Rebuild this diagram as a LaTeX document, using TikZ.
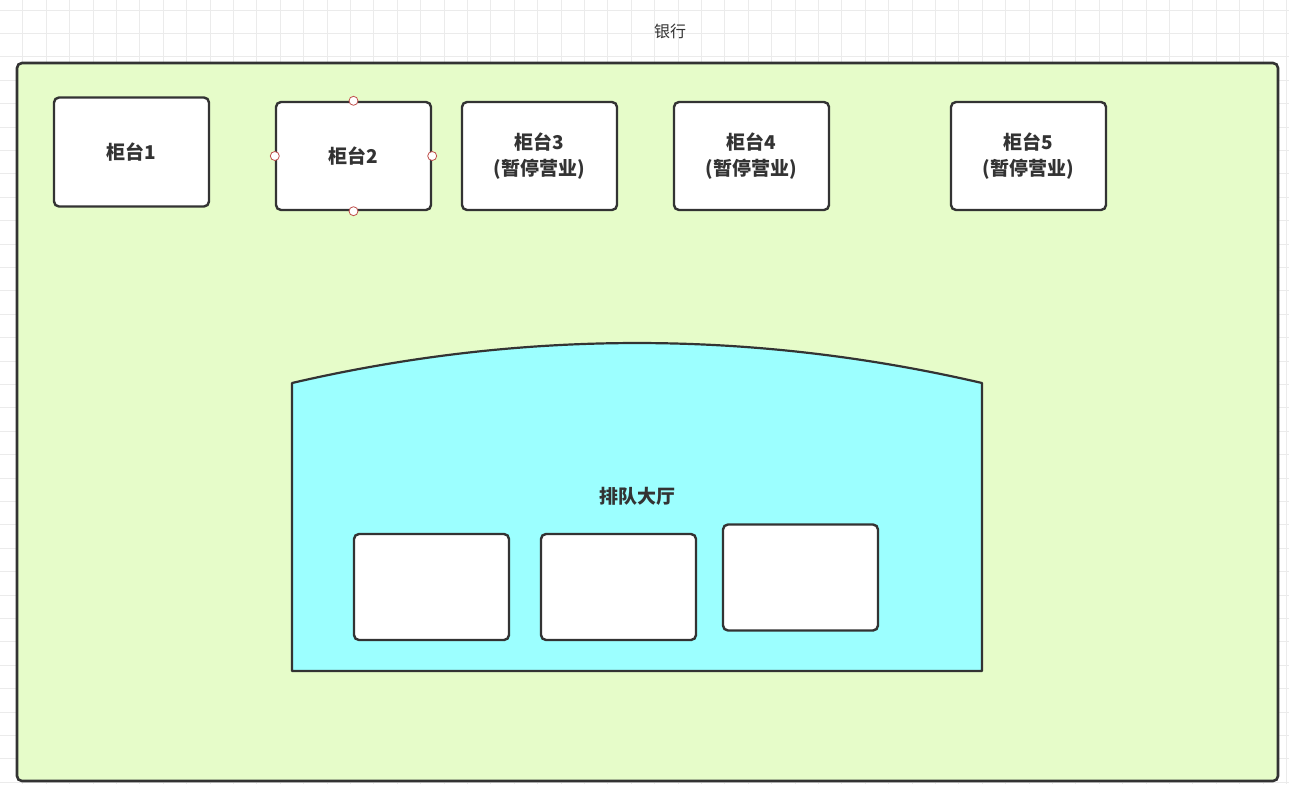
\documentclass[tikz,border=0pt]{standalone}
\usepackage{fontspec}
\setmainfont{Noto Sans CJK SC}
\definecolor{gridc}{HTML}{EBEBEB}
\definecolor{bankfill}{HTML}{E6FCC9}
\definecolor{hallfill}{HTML}{9CFFFF}
\definecolor{edgec}{HTML}{333333}
\definecolor{txtc}{HTML}{333333}
\definecolor{handlec}{HTML}{C0504D}
\tikzset{
  counterbox/.style={draw=edgec, line width=2.4pt, fill=white, rounded corners=5pt,
    minimum width=155pt, minimum height=108pt, inner sep=0pt, align=center,
    font=\fontsize{19}{26}\selectfont\bfseries, text=txtc},
  seatbox/.style={draw=edgec, line width=2.4pt, fill=white, rounded corners=5pt,
    minimum width=155pt, minimum height=106pt, inner sep=0pt},
  handle/.style={circle, draw=handlec, fill=white, line width=0.8pt, minimum size=9pt, inner sep=0pt},
  lbl/.style={text=txtc, inner sep=0pt}
}
\begin{document}
\begin{tikzpicture}[x=1pt,y=-1pt]
\useasboundingbox (0,0) rectangle (1289,784);
\fill[white] (0,0) rectangle (1289,784);
% grid
\foreach \i in {0,...,55} {
  \draw[gridc, line width=0.8pt] ({-0.7+23.4*\i},0) -- ({-0.7+23.4*\i},784);
}
\foreach \j in {0,...,33} {
  \draw[gridc, line width=0.8pt] (0,{10+23.4*\j}) -- (1289,{10+23.4*\j});
}
% title
\node[lbl, font=\fontsize{16}{18}\selectfont] (title) at (670,31) {银行};
% bank
\draw[edgec, line width=2.6pt, fill=bankfill, rounded corners=5pt] (17,63) rectangle (1278,781);
% counters
\node[counterbox, minimum height=109pt] (c1) at (131.5,152) {柜台1};
\node[counterbox] (c2) at (353.5,156) {柜台2};
\node[counterbox] (c3) at (539.5,156) {柜台3\\(暂停营业)};
\node[counterbox] (c4) at (751.5,156) {柜台4\\(暂停营业)};
\node[counterbox] (c5) at (1028.5,156) {柜台5\\(暂停营业)};
% selection handles on counter 2
\node[handle] (h1) at (c2.north) {};
\node[handle] (h2) at (c2.south) {};
\node[handle] (h3) at (c2.west) {};
\node[handle] (h4) at (c2.east) {};
% hall
\draw[edgec, line width=2.2pt, fill=hallfill, line join=round]
  (292,383) .. controls (522,329.7) and (752,329.7) .. (982,383) -- (982,671) -- (292,671) -- cycle;
\node[lbl, font=\fontsize{19}{22}\selectfont\bfseries] (hall) at (637,496) {排队大厅};
% seats
\node[seatbox] (s1) at (431.5,587) {};
\node[seatbox] (s2) at (618.5,587) {};
\node[seatbox] (s3) at (800.5,577.5) {};
\end{tikzpicture}
\end{document}
